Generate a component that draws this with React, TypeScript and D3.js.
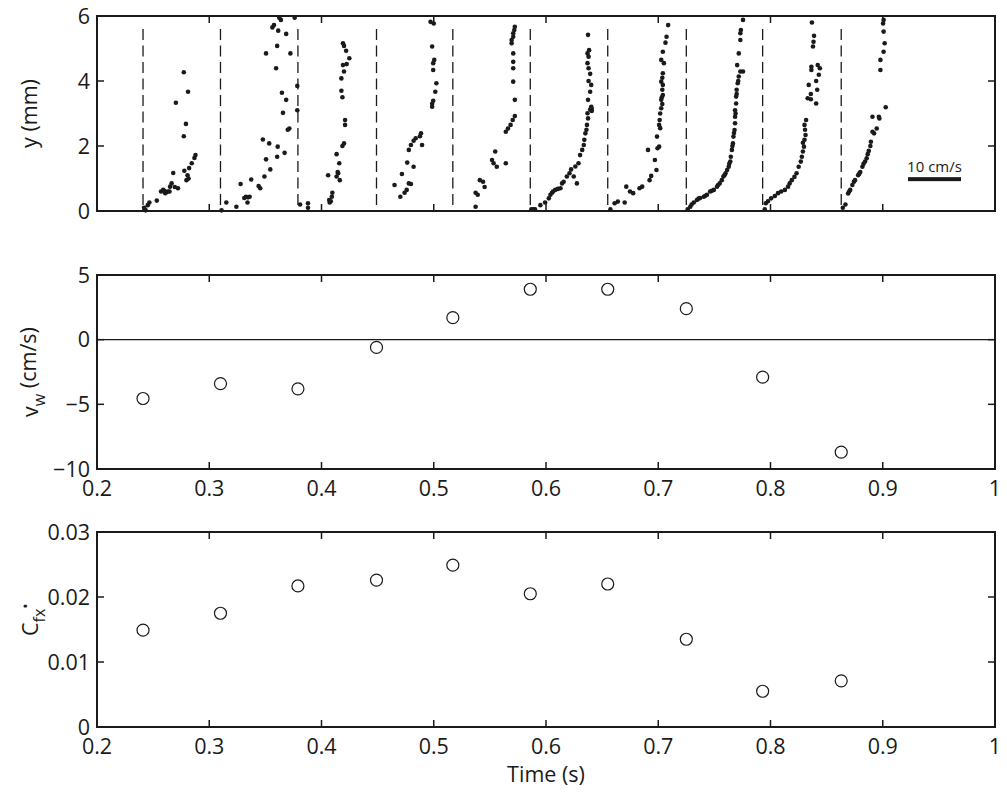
import React from "react";
import * as d3 from "d3";

// Sample times (s)
const times = [0.241, 0.310, 0.379, 0.449, 0.517, 0.586, 0.655, 0.725, 0.793, 0.863];
// Wall velocity v_w (cm/s)
const vw = [-4.55, -3.4, -3.8, -0.6, 1.7, 3.9, 3.9, 2.4, -2.9, -8.7];
// Skin friction coefficient
const cfx = [0.0149, 0.0175, 0.0217, 0.0226, 0.0249, 0.0205, 0.022, 0.0135, 0.0055, 0.0071];

// Velocity profiles: [u (cm/s), y (mm)]
const profile1 = [[0.3,0.05],[0.5,0.02],[0.2,0.1],[0.9,0.18],[1.2,0.26],[2.6,0.32],[3.4,0.6],[3.8,0.65],[4.2,0.55],[4.7,0.6],[5.1,0.75],[5.4,0.85],[5.7,1.17],[6.0,0.74],[6.6,0.7],[7.8,1.24],[8.2,0.95],[8.4,1.1],[8.7,1.32],[9.2,1.47],[9.7,1.63],[9.9,1.72],[7.7,2.3],[8.1,2.68],[6.2,3.33],[8.5,3.67],[7.7,4.27],[4.4,0.58],[4.0,0.62],[5.0,0.6],[8.6,1.0]];
const profile2 = [[0.2,0.02],[1.1,0.26],[3.0,0.13],[3.8,0.83],[4.5,0.4],[5.1,0.26],[4.8,0.44],[5.5,0.44],[5.2,0.42],[5.8,0.97],[7.2,0.77],[7.5,0.7],[8.3,1.06],[8.6,1.59],[9.4,1.28],[8.0,2.2],[9.2,2.08],[10.7,1.67],[10.8,1.98],[12.1,1.79],[13.0,2.54],[12.7,2.5],[11.8,3.02],[12.4,3.42],[11.6,3.64],[10.5,4.39],[8.6,4.85],[10.7,5.08],[13.2,4.85],[10.9,5.55],[12.4,5.45],[9.8,5.65],[10.1,5.72],[11.4,5.88],[11.1,5.95],[14.0,5.95],[14.5,3.85],[14.5,3.1]];
const profile3 = [[1.9,0.24],[1.9,0.1],[0.4,0.2],[5.9,0.34],[6.4,0.44],[6.0,0.26],[6.5,0.56],[5.7,1.1],[7.3,1.06],[7.6,1.16],[7.9,0.95],[7.8,1.47],[7.3,1.75],[8.4,2.0],[8.7,2.08],[8.9,2.65],[8.9,2.8],[8.4,3.5],[8.2,3.7],[8.2,4.08],[8.7,4.29],[8.5,4.49],[9.2,4.52],[9.7,4.7],[9.1,4.93],[8.5,5.16],[8.7,5.08],[6.2,0.3],[7.5,1.2]];
const profile4 = [[3.4,0.8],[4.5,0.44],[4.8,1.14],[5.3,0.56],[5.7,0.65],[6.1,0.85],[6.5,0.83],[5.8,1.49],[7.0,1.36],[6.1,1.88],[6.5,2.03],[7.0,2.16],[7.4,2.24],[8.2,2.3],[8.4,2.39],[8.6,2.03],[10.5,3.21],[10.5,3.3],[10.7,3.39],[11.1,3.67],[11.3,3.93],[10.7,4.34],[10.7,4.55],[10.9,4.65],[10.5,5.06],[10.8,5.77],[10.2,5.82]];
const profile5 = [[4.3,0.13],[4.3,0.56],[4.7,0.5],[5.1,0.95],[5.7,0.9],[6.0,0.74],[7.4,1.57],[7.7,1.47],[8.3,1.36],[8.0,1.83],[10.0,1.47],[10.0,2.44],[10.4,2.54],[10.9,2.65],[11.3,2.8],[11.7,2.92],[11.7,3.42],[11.4,3.98],[11.4,4.39],[11.4,4.59],[11.4,4.85],[11.1,5.16],[11.1,5.26],[11.4,5.47],[11.6,5.57],[11.7,5.67],[11.4,5.36]];
const profile6 = [[0.2,0.05],[0.6,0.05],[0.9,0.05],[1.9,0.18],[2.8,0.26],[3.5,0.39],[3.8,0.5],[4.1,0.56],[4.7,0.65],[5.7,0.7],[6.0,0.85],[6.3,0.9],[6.9,1.06],[7.4,1.16],[7.7,1.28],[8.2,1.06],[8.8,0.85],[8.5,1.37],[9.1,1.47],[9.4,1.72],[9.8,1.88],[10.1,2.03],[10.2,2.19],[10.4,2.39],[10.7,2.65],[10.8,3.01],[11.3,3.12],[11.5,3.21],[11.6,3.08],[11.6,3.15],[10.9,3.42],[11.3,3.67],[11.5,3.88],[11.0,4.0],[11.3,4.22],[11.0,4.39],[10.8,4.55],[11.0,4.75],[10.8,4.85],[11.1,4.95],[10.9,5.42],[4.3,0.6],[5.2,0.68],[10.6,2.5],[10.9,2.85]];
const profile7 = [[0.5,0.05],[1.3,0.24],[1.9,0.29],[3.2,0.26],[3.5,0.75],[4.2,0.6],[4.8,0.55],[6.0,0.7],[6.5,0.75],[7.6,1.88],[7.9,0.95],[8.2,1.08],[8.9,1.57],[9.2,1.26],[9.3,2.29],[9.4,1.93],[9.7,1.98],[9.7,2.65],[9.8,2.8],[9.9,3.0],[10.1,3.16],[10.3,3.29],[10.1,3.42],[10.4,3.57],[10.3,3.73],[10.4,3.88],[10.1,3.98],[10.4,4.24],[10.6,4.55],[10.1,4.65],[10.4,4.9],[10.9,5.18],[11.1,5.36],[11.4,5.72],[9.9,2.55],[10.2,3.5],[10.3,4.1]];
const profile8 = [[0.25,0.05],[0.75,0.13],[1.4,0.26],[2.0,0.34],[2.6,0.4],[3.3,0.44],[3.9,0.5],[4.5,0.6],[5.2,0.65],[5.8,0.75],[6.0,0.8],[6.3,0.85],[6.7,0.95],[7.0,1.06],[7.2,1.1],[7.4,1.16],[7.7,1.26],[8.0,1.36],[8.1,1.45],[8.3,1.52],[8.4,1.67],[8.6,1.88],[8.7,2.0],[8.8,2.08],[8.9,2.29],[9.0,2.4],[9.1,2.49],[9.2,2.7],[9.2,2.9],[9.3,3.0],[9.2,3.1],[9.4,3.31],[9.4,3.52],[9.5,3.6],[9.5,3.73],[9.7,3.93],[9.8,4.0],[9.9,4.14],[10.2,4.29],[10.7,4.29],[9.6,4.49],[9.9,4.85],[10.2,5.26],[10.2,5.47],[10.3,5.57],[10.7,5.88],[1.0,0.2],[2.3,0.38],[3.6,0.47],[4.8,0.62]];
const profile9 = [[0.4,0.05],[0.6,0.24],[1.0,0.3],[1.6,0.39],[2.3,0.46],[2.9,0.55],[3.5,0.6],[4.2,0.65],[4.8,0.75],[5.1,0.85],[5.5,0.95],[6.0,1.05],[6.4,1.16],[6.8,1.36],[7.2,1.52],[7.4,1.67],[7.6,1.83],[7.8,1.98],[7.6,2.1],[7.9,2.19],[8.1,2.34],[8.0,2.5],[7.9,2.65],[8.2,2.8],[8.5,3.47],[9.1,3.44],[10.1,3.31],[9.1,3.6],[10.3,3.73],[8.7,3.88],[10.1,4.0],[10.6,4.19],[10.8,4.39],[10.4,4.49],[9.2,4.44],[9.2,4.34],[9.5,5.06],[9.6,5.21],[9.7,5.39],[9.3,5.8]];
const profile10 = [[0.3,0.1],[0.8,0.2],[1.3,0.54],[1.5,0.6],[1.7,0.65],[2.1,0.8],[2.4,0.9],[2.6,0.95],[3.2,1.1],[3.4,1.15],[3.6,1.2],[4.0,1.36],[4.2,1.45],[4.5,1.52],[4.8,1.62],[5.0,1.75],[5.2,1.85],[5.5,2.0],[5.6,2.13],[5.9,2.44],[6.2,2.39],[6.7,2.54],[5.9,2.9],[7.1,2.9],[7.2,2.85],[8.4,3.19],[7.4,4.34],[7.4,4.65],[8.0,4.9],[8.2,5.16],[8.0,5.52],[7.9,5.77],[8.0,5.88]];
const profiles = [profile1, profile2, profile3, profile4, profile5, profile6, profile7, profile8, profile9, profile10];

// Tick labels
const xTicks = [0.2, 0.3, 0.4, 0.5, 0.6, 0.7, 0.8, 0.9, 1];
const yTicksTop = [0, 2, 4, 6];
const yTicksMid = [-10, -5, 0, 5];
const yTicksBot = [0, 0.01, 0.02, 0.03];

const scaleBarCm = 10; // cm/s
const timePerCm = 0.00472; // seconds of x-axis per 1 cm/s of profile velocity
const scaleBarStart = 0.9225;
const scaleBarY = 0.98;

const FONT = "'Open Sans', 'DejaVu Sans', sans-serif";
const INK = "#1a1a1a";

export default function App() {
  const W = 1007, H = 794;
  const L = 97, R = 995;
  const x = d3.scaleLinear().domain([0.2, 1]).range([L, R]);
  const yTop = d3.scaleLinear().domain([0, 6]).range([211, 16]);
  const yMid = d3.scaleLinear().domain([-10, 5]).range([469, 275]);
  const yBot = d3.scaleLinear().domain([0, 0.03]).range([727, 532]);
  const tickLen = 7;
  const FS = 21.5;

  const fmtX = (v: number) => (v === 1 ? "1" : d3.format(".1f")(v));
  const fmtMinus = (v: number) => String(v).replace("-", "\u2212");

  const frame = (y: d3.ScaleLinear<number, number>, yTicks: number[], fmtY: (v: number) => string, showX: boolean, tickY: number[]) => {
    const [y0, y1] = y.range();
    return (
      <g>
        {xTicks.slice(1, -1).map((t) => (
          <g key={"xt" + t}>
            <line x1={x(t)} x2={x(t)} y1={y0} y2={y0 - tickLen} stroke={INK} strokeWidth={1.5} />
            <line x1={x(t)} x2={x(t)} y1={y1} y2={y1 + tickLen} stroke={INK} strokeWidth={1.5} />
          </g>
        ))}
        {tickY.map((t) => (
          <g key={"yt" + t}>
            <line x1={L} x2={L + tickLen} y1={y(t)} y2={y(t)} stroke={INK} strokeWidth={1.5} />
            <line x1={R} x2={R - tickLen} y1={y(t)} y2={y(t)} stroke={INK} strokeWidth={1.5} />
          </g>
        ))}
        <rect x={L} y={y1} width={R - L} height={y0 - y1} fill="none" stroke={INK} strokeWidth={2} />
        {yTicks.map((t) => (
          <text key={"yl" + t} x={L - 7} y={y(t)} dy="0.36em" textAnchor="end" fontSize={FS} fontFamily={FONT} fill={INK}>
            {fmtY(t)}
          </text>
        ))}
        {showX &&
          xTicks.map((t) => (
            <text key={"xl" + t} x={x(t)} y={y0 + 27} textAnchor="middle" fontSize={FS} fontFamily={FONT} fill={INK}>
              {fmtX(t)}
            </text>
          ))}
      </g>
    );
  };

  return (
    <div style={{ position: "absolute", left: 0, top: 0 }}>
      <svg width={W} height={H} style={{ display: "block", background: "#fff" }}>
        {/* Top panel: velocity profiles */}
        {times.map((t, i) => (
          <line key={"d" + i} x1={x(t)} x2={x(t)} y1={yTop(5.6)} y2={yTop(0)} stroke={INK} strokeWidth={1.3} strokeDasharray="11,5.5" />
        ))}
        {profiles.map((p, i) =>
          p.map((d, j) => (
            <circle key={"p" + i + "_" + j} cx={x(times[i] + d[0] * timePerCm)} cy={yTop(d[1])} r={2.3} fill={INK} />
          ))
        )}
        <rect
          x={x(scaleBarStart)}
          y={yTop(scaleBarY) - 2}
          width={x(scaleBarStart + scaleBarCm * timePerCm) - x(scaleBarStart)}
          height={4}
          fill={INK}
        />
        <text
          x={(x(scaleBarStart) + x(scaleBarStart + scaleBarCm * timePerCm)) / 2}
          y={yTop(scaleBarY) - 7}
          textAnchor="middle"
          fontSize={15}
          fontFamily={FONT}
          fill={INK}
        >
          10 cm/s
        </text>
        {frame(yTop, yTicksTop, (v) => String(v), false, [2, 4])}
        <text transform={`translate(37,${yTop(3)}) rotate(-90)`} textAnchor="middle" fontSize={FS} fontFamily={FONT} fill={INK}>
          y (mm)
        </text>

        {/* Middle panel: wall velocity */}
        <line x1={L} x2={R} y1={yMid(0)} y2={yMid(0)} stroke={INK} strokeWidth={1.3} />
        {times.map((t, i) => (
          <circle key={"v" + i} cx={x(t)} cy={yMid(vw[i])} r={6} fill="none" stroke={INK} strokeWidth={1.2} />
        ))}
        {frame(yMid, yTicksMid, fmtMinus, true, [-5, 0])}
        <text transform={`translate(38,${yMid(-2.5)}) rotate(-90)`} textAnchor="middle" fontSize={FS} fontFamily={FONT} fill={INK}>
          v
          <tspan dy={7} fontSize={16}>w</tspan>
          <tspan dy={-9}> (cm/s)</tspan>
        </text>

        {/* Bottom panel: skin friction */}
        {times.map((t, i) => (
          <circle key={"c" + i} cx={x(t)} cy={yBot(cfx[i])} r={6} fill="none" stroke={INK} strokeWidth={1.2} />
        ))}
        {frame(yBot, yTicksBot, (v) => (v === 0 ? "0" : d3.format(".2f")(v)), true, [0.01, 0.02])}
        <text transform={`translate(38,${yBot(0.0165)}) rotate(-90)`} textAnchor="middle" fontSize={FS} fontFamily={FONT} fill={INK}>
          C
          <tspan dy={7} fontSize={16}>fx</tspan>
          <tspan dy={-14} fontSize={14}>{"\u2022"}</tspan>
        </text>
        <text x={x(0.6)} y={782} textAnchor="middle" fontSize={FS} fontFamily={FONT} fill={INK}>
          Time (s)
        </text>
      </svg>
    </div>
  );
}
